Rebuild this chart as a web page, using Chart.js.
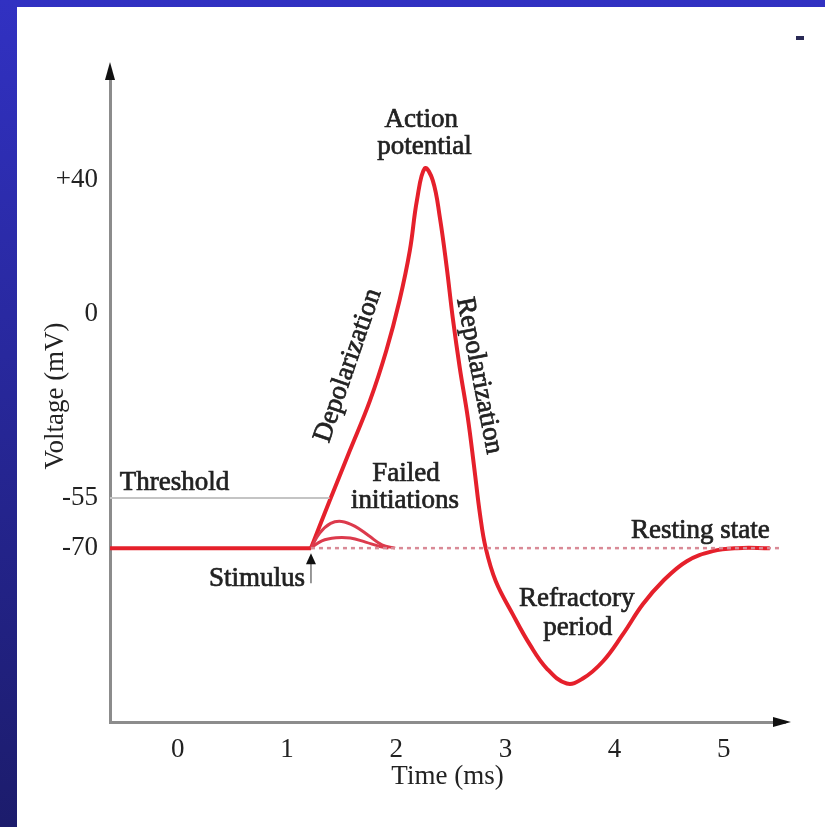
<!DOCTYPE html>
<html>
<head>
<meta charset="utf-8">
<script src="https://cdn.jsdelivr.net/npm/chart.js@4.4.0/dist/chart.umd.min.js"></script>
<style>
  html, body { margin: 0; padding: 0; }
  body { width: 825px; height: 827px; position: relative; overflow: hidden;
         background: linear-gradient(#3131c2, #1c1c6c); }
  #sheet { position: absolute; left: 17px; top: 7px; right: 0; bottom: 0; background: #fff; }
  #chart { position: absolute; left: 0; top: 0; }
  #dash { position: absolute; left: 796px; top: 36px; width: 8px; height: 4px; background: #2a2a55; }
</style>
</head>
<body>
<div id="sheet"></div>
<div id="dash"></div>
<canvas id="chart" width="825" height="827"></canvas>
<script>
// membrane potential (mV) against time (ms)
var restingTime    = [-0.62, 1.22];
var restingVoltage = [-70, -70];

var apTime    = [1.22, 1.39, 1.575, 1.76, 1.91, 2.03, 2.125, 2.19, 2.262, 2.335, 2.40, 2.463, 2.518, 2.582, 2.656, 2.715, 2.768, 2.82,
                 2.912, 3.068, 3.223, 3.379, 3.562, 3.709, 3.892, 4.075, 4.258, 4.441, 4.661, 4.899, 5.119, 5.421];
var apVoltage = [-70, -55.9, -40.9, -25.9, -10.9, 4, 19, 34, 43.6, 40, 28.9, 13.9, -1.1, -16, -31, -46, -60, -70,
                 -79.9, -89.8, -98.8, -106, -110.5, -109, -103.9, -95.8, -86.8, -79.9, -73.9, -70.9, -70, -70];

var failHiTime    = [1.22, 1.30, 1.40, 1.50, 1.62, 1.75, 1.87, 1.99];
var failHiVoltage = [-70, -65.5, -62.6, -62, -63.4, -66.3, -69, -70];
var failLoTime    = [1.22, 1.32, 1.45, 1.58, 1.72, 1.85, 1.93];
var failLoVoltage = [-70, -67.8, -66.9, -67, -68.2, -69.5, -70];

var thresholdTime = [-0.62, 1.39];
var thresholdVoltage = [-55, -55];
var restTime = [1.22, 5.51];
var restVoltage = [-70, -70];

var xTicks = [0, 1, 2, 3, 4, 5];
var yTicks = [-70, -55, 0, 40];

function pts(xs, ys) {
  return xs.map(function (x, i) { return { x: x, y: ys[i] }; });
}

// text on the drawing, anchored in data units
var notes = [
  { text: 'Action', t: 2.23, v: 58, align: 'center' },
  { text: 'potential', t: 2.26, v: 50, align: 'center' },
  { text: 'Depolarization', t: 1.56, v: -15.4, align: 'center', rot: -71 },
  { text: 'Repolarization', t: 2.76, v: -18.4, align: 'center', rot: 79 },
  { text: 'Threshold', t: -0.53, v: -50.5, align: 'left' },
  { text: 'Failed', t: 2.09, v: -47.8, align: 'center' },
  { text: 'initiations', t: 2.08, v: -55.9, align: 'center' },
  { text: 'Stimulus', t: 1.165, v: -79.3, align: 'right' },
  { text: 'Resting state', t: 5.42, v: -64.9, align: 'right' },
  { text: 'Refractory', t: 3.654, v: -85.3, align: 'center' },
  { text: 'period', t: 3.663, v: -94, align: 'center' }
];

var FONT = '"Liberation Serif", "Times New Roman", serif';
var INK = '#222';

var decorations = {
  id: 'decorations',
  afterDatasetsDraw: function (chart) {
    var ctx = chart.ctx, xs = chart.scales.x, ys = chart.scales.y, a = chart.chartArea;
    ctx.save();
    // axis arrow heads
    ctx.fillStyle = '#111';
    ctx.beginPath();
    ctx.moveTo(a.left, a.top - 8);
    ctx.lineTo(a.left - 5, a.top + 10);
    ctx.lineTo(a.left + 5, a.top + 10);
    ctx.closePath();
    ctx.fill();
    ctx.beginPath();
    ctx.moveTo(a.right + 6, a.bottom);
    ctx.lineTo(a.right - 12, a.bottom - 5);
    ctx.lineTo(a.right - 12, a.bottom + 5);
    ctx.closePath();
    ctx.fill();

    // stimulus arrow
    var sx = xs.getPixelForValue(1.22);
    var sTop = ys.getPixelForValue(-71.5), sBot = ys.getPixelForValue(-80.5);
    ctx.strokeStyle = '#777';
    ctx.lineWidth = 1.5;
    ctx.beginPath();
    ctx.moveTo(sx, sTop + 8);
    ctx.lineTo(sx, sBot);
    ctx.stroke();
    ctx.fillStyle = '#111';
    ctx.beginPath();
    ctx.moveTo(sx, sTop);
    ctx.lineTo(sx - 5, sTop + 11);
    ctx.lineTo(sx + 5, sTop + 11);
    ctx.closePath();
    ctx.fill();

    // labels
    ctx.fillStyle = INK;
    ctx.strokeStyle = INK;
    ctx.lineWidth = 0.7;
    ctx.font = '27px ' + FONT;
    ctx.textBaseline = 'middle';
    notes.forEach(function (n) {
      var px = xs.getPixelForValue(n.t), py = ys.getPixelForValue(n.v);
      ctx.save();
      ctx.translate(px, py);
      if (n.rot) ctx.rotate(n.rot * Math.PI / 180);
      ctx.textAlign = n.align;
      ctx.fillText(n.text, 0, 0);
      ctx.strokeText(n.text, 0, 0);
      ctx.restore();
    });
    ctx.restore();
  }
};

new Chart(document.getElementById('chart'), {
  type: 'line',
  data: {
    datasets: [
      { data: pts(thresholdTime, thresholdVoltage), borderColor: '#c4c4c4', borderWidth: 2, pointRadius: 0 },
      { data: pts(restTime, restVoltage), borderColor: '#d98a96', borderWidth: 2.5, borderDash: [4, 4], pointRadius: 0 },
      { data: pts(failHiTime, failHiVoltage), borderColor: '#dc3a4c', borderWidth: 3, pointRadius: 0, tension: 0.4 },
      { data: pts(failLoTime, failLoVoltage), borderColor: '#dc3a4c', borderWidth: 3, pointRadius: 0, tension: 0.4 },
      { data: pts(restingTime, restingVoltage), borderColor: '#e5202b', borderWidth: 4, pointRadius: 0 },
      { data: pts(apTime, apVoltage), borderColor: '#e5202b', borderWidth: 4, pointRadius: 0, tension: 0.4 }
    ]
  },
  options: {
    responsive: false,
    animation: false,
    layout: { padding: { top: 70, right: 40, left: 0, bottom: 0 } },
    plugins: { legend: { display: false }, tooltip: { enabled: false } },
    scales: {
      x: {
        type: 'linear',
        min: -0.62,
        max: 5.56,
        afterFit: function (s) { s.height = 105; },
        afterBuildTicks: function (s) { s.ticks = xTicks.map(function (v) { return { value: v }; }); },
        grid: { display: false, drawTicks: false },
        border: { color: '#8c8c8c', width: 3 },
        ticks: { color: INK, font: { family: FONT, size: 27 }, padding: 12 },
        title: { display: true, text: 'Time (ms)', color: INK, font: { family: FONT, size: 27 }, padding: { top: 0, bottom: 34 } }
      },
      y: {
        type: 'linear',
        min: -122,
        max: 73,
        afterFit: function (s) { s.width = 110; },
        afterBuildTicks: function (s) { s.ticks = yTicks.map(function (v) { return { value: v }; }); },
        grid: { display: false, drawTicks: false },
        border: { color: '#8c8c8c', width: 3 },
        ticks: {
          color: INK, font: { family: FONT, size: 27 }, padding: 12,
          callback: function (v) { return v > 0 ? '+' + v : '' + v; }
        },
        title: { display: true, text: 'Voltage (mV)', color: INK, font: { family: FONT, size: 27 }, padding: { top: 40, bottom: 0 } }
      }
    }
  },
  plugins: [decorations]
});
</script>
</body>
</html>
